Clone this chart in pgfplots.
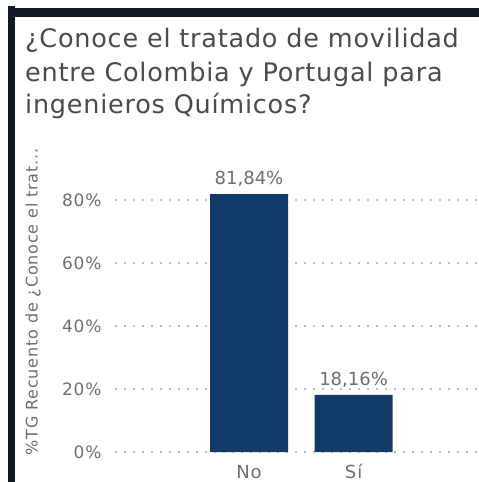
\documentclass[border=0pt]{standalone}
\usepackage{fontspec}
\setmainfont{DejaVu Sans}
\newfontfamily\titlefont[LetterSpace=3]{DejaVu Sans}
\newfontfamily\labfont[LetterSpace=5]{DejaVu Sans}
\usepackage{pgfplots}
\pgfplotsset{compat=1.18}
\definecolor{barblue}{HTML}{123B69}
\definecolor{titlegray}{HTML}{4A4A4A}
\definecolor{labgray}{HTML}{6E6E6E}
\definecolor{gridgray}{HTML}{BDBDBD}
\definecolor{border}{HTML}{0E1A26}
\begin{document}
\begin{tikzpicture}
\begin{axis}[
  scale only axis, width=363pt, height=283.5pt,
  xmin=-1.28, xmax=2.19, ymin=0, ymax=90,
  axis line style={draw=none},
  ybar, bar width=78pt,
  xtick={0,1}, xticklabels={No,Sí},
  ytick={0,20,40,60,80}, yticklabels={0\%,20\%,40\%,60\%,80\%},
  ymajorgrids,
  grid style={gridgray, line width=1.6pt, dash pattern=on 1.6pt off 7.4pt},
  major tick length=0pt,
  tick style={draw=none},
  xticklabel style={anchor=base, inner sep=0pt, yshift=-26pt, text=labgray, font=\labfont\fontsize{18}{20}\selectfont},
  yticklabel style={anchor=east, xshift=-10pt, text=labgray, font=\labfont\fontsize{17}{20}\selectfont},
  nodes near coords={\pgfmathprintnumber[use comma,fixed,fixed zerofill,precision=2,assume math mode=true]{\pgfplotspointmeta}\%},
  every node near coord/.append style={anchor=south, yshift=4pt, text=labgray, font=\fontsize{18}{20}\selectfont},
]
\addplot[fill=barblue, draw=none] coordinates {(0,81.84) (1,18.16)};
\coordinate (O) at (axis cs:0,0);
\end{axis}
\begin{scope}[shift={(O)}, x=1pt, y=1pt]
% frame
\fill[border] (-241,-30) rectangle (-234,446);
\fill[border] (-241,435) rectangle (230,444);
% title
\node[anchor=base west,inner sep=0,text=titlegray,font=\titlefont\fontsize{25.5}{30}\selectfont] at (-224,404) {¿Conoce el tratado de movilidad};
\node[anchor=base west,inner sep=0,text=titlegray,font=\titlefont\fontsize{25.5}{30}\selectfont] at (-224,370) {entre Colombia y Portugal para};
\node[anchor=base west,inner sep=0,text=titlegray,font=\titlefont\fontsize{25.5}{30}\selectfont] at (-224,338) {ingenieros Químicos?};
% y label
\node[rotate=90,inner sep=0,text=labgray,font=\labfont\fontsize{16}{18}\selectfont] at (-216,150) {\%TG Recuento de ¿Conoce el trat...};
\pgfresetboundingbox
\path[use as bounding box] (-249,-30) rectangle (230,452);
\end{scope}
\end{tikzpicture}
\end{document}
